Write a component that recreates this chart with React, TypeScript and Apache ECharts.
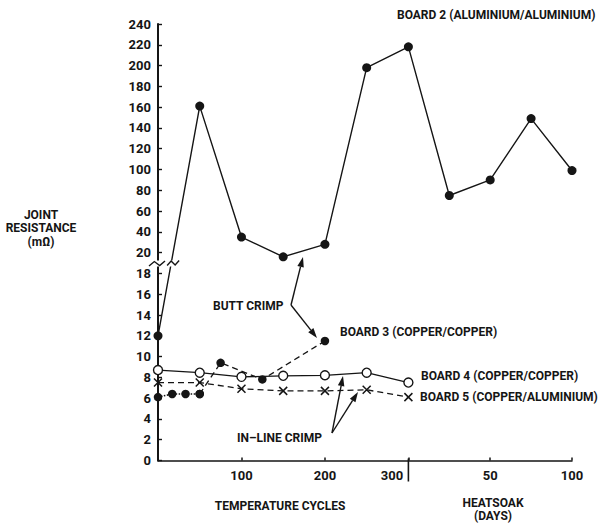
import React, { useEffect, useRef } from "react";
import * as echarts from "echarts";

// ---------- data ----------
// Board 2 (aluminium/aluminium), temperature-cycle part. Scale tells which part of the broken axis the value is read on.
const B2_CYCLES = [0, 50, 100, 150, 200, 250, 300];
const B2_CYCLE_VALUES = [12, 161, 35, 16, 28, 198, 218];
const B2_CYCLE_SCALE = ["low", "high", "high", "high", "high", "high", "high"];
// Board 2, heatsoak part (days)
const B2_DAYS = [25, 50, 75, 100];
const B2_DAY_VALUES = [75, 90, 149, 99];

// Board 3 (copper/copper) butt crimp
const B3_CYCLES = [0, 17, 33, 50, 75, 125, 200];
const B3_VALUES = [6.1, 6.4, 6.4, 6.4, 9.4, 7.8, 11.5];
const B3_DOTTED_UNTIL = 4; // first points joined by a dotted line

// Board 4 (copper/copper) in-line crimp
const B4_CYCLES = [0, 50, 100, 150, 200, 250, 300];
const B4_VALUES = [8.7, 8.45, 8.05, 8.15, 8.2, 8.45, 7.5];

// Board 5 (copper/aluminium) in-line crimp
const B5_CYCLES = [0, 50, 100, 150, 200, 250, 300];
const B5_VALUES = [7.5, 7.5, 6.9, 6.7, 6.7, 6.8, 6.1];

// axis ticks
const CYCLE_TICKS = [100, 200, 300];
const DAY_TICKS = [50, 100];
const Y_LOW_MAX = 18;
const Y_HIGH_MIN = 20;
const Y_HIGH_MAX = 240;

// ---------- broken-axis mapping ----------
const CYCLE_END = 300;
const DAY_SCALE = 1.96; // one heatsoak day spans this many cycle units
const HIGH_COMPRESS = 10; // upper part: 20 units per 2 lower units
const dayToX = (d: number) => CYCLE_END + d * DAY_SCALE;
const xToLabel = (x: number) => (x <= CYCLE_END ? String(Math.round(x)) : String(Math.round((x - CYCLE_END) / DAY_SCALE)));
const toY = (v: number, scale: string) => (scale === "low" ? v : Y_HIGH_MIN + (v - Y_HIGH_MIN) / HIGH_COMPRESS);
const yToLabel = (y: number) => (y <= Y_LOW_MAX ? String(y) : String(Math.round(Y_HIGH_MIN + (y - Y_HIGH_MIN) * HIGH_COMPRESS)));

const X_MAX = dayToX(DAY_TICKS[DAY_TICKS.length - 1]);
const Y_MAX = toY(Y_HIGH_MAX, "high");

const GRID = { left: 158, top: 24, width: 414, height: 436.5 };
const px = (x: number) => GRID.left + (x / X_MAX) * GRID.width;
const py = (y: number) => GRID.top + GRID.height - (y / Y_MAX) * GRID.height;

const FONT = "Roboto, 'Liberation Sans', sans-serif";
const INK = "#151515";

function label(text: string, x: number, y: number, align = "left", extra: any = {}) {
  return {
    type: "text",
    z: 100,
    style: {
      text,
      x,
      y,
      fill: INK,
      fontFamily: FONT,
      fontWeight: "bold",
      fontSize: 12,
      align,
      verticalAlign: "middle",
      ...extra,
    },
  };
}

function arrow(x1: number, y1: number, x2: number, y2: number) {
  const L = 10;
  const W = 3.3;
  const a = Math.atan2(y2 - y1, x2 - x1);
  const bx = x2 - Math.cos(a) * L;
  const by = y2 - Math.sin(a) * L;
  const nx = -Math.sin(a) * W;
  const ny = Math.cos(a) * W;
  return [
    { type: "line", z: 100, shape: { x1, y1, x2: bx, y2: by }, style: { stroke: INK, lineWidth: 1.4 } },
    {
      type: "polygon",
      z: 100,
      shape: { points: [[x2, y2], [bx + nx, by + ny], [bx - nx, by - ny]] },
      style: { fill: INK },
    },
  ];
}

export default function App() {
  const ref = useRef<HTMLDivElement>(null);
  useEffect(() => {
    if (!ref.current) return;
    const chart = echarts.init(ref.current, undefined, { renderer: "svg" });

    const b2 = [
      ...B2_CYCLES.map((c, i) => [c, toY(B2_CYCLE_VALUES[i], B2_CYCLE_SCALE[i])]),
      ...B2_DAYS.map((d, i) => [dayToX(d), toY(B2_DAY_VALUES[i], "high")]),
    ];
    const b3 = B3_CYCLES.map((c, i) => [c, toY(B3_VALUES[i], "low")]);
    const b4 = B4_CYCLES.map((c, i) => [c, toY(B4_VALUES[i], "low")]);
    const b5 = B5_CYCLES.map((c, i) => [c, toY(B5_VALUES[i], "low")]);

    const xTicks = [...CYCLE_TICKS, ...DAY_TICKS.map(dayToX)];
    const tickFont = { fontFamily: FONT, fontWeight: "bold", fontSize: 13, color: INK };

    // break location on the y axis and on board 2's first segment
    const breakY = (py(Y_LOW_MAX) + py(Y_HIGH_MIN)) / 2 + 0.5;
    const p0 = b2[0];
    const p1 = b2[1];
    const tBreak = (py(p0[1]) - breakY) / (py(p0[1]) - py(p1[1]));
    const lineBreakX = px(p0[0]) + tBreak * (px(p1[0]) - px(p0[0]));
    const axX = GRID.left;

    const zig = (cx: number, cy: number, hw: number) => ({
      type: "polyline",
      z: 101,
      shape: {
        points: [
          [cx - hw, cy + 2.5],
          [cx - hw / 3, cy - 2],
          [cx + hw / 3, cy + 2],
          [cx + hw, cy - 2.5],
        ],
      },
      style: { stroke: INK, lineWidth: 1.4, fill: "none" },
    });

    chart.setOption({
      animation: false,
      backgroundColor: "#fff",
      grid: { ...GRID, containLabel: false },
      xAxis: {
        type: "value",
        min: 0,
        max: X_MAX,
        splitLine: { show: false },
        axisLine: { lineStyle: { color: INK, width: 1.5 } },
        axisTick: { customValues: xTicks, inside: true, length: 3, lineStyle: { color: INK, width: 1.5 } },
        axisLabel: {
          customValues: xTicks,
          margin: 8,
          ...tickFont,
          formatter: (v: number) => (v === CYCLE_END ? "{s|" + xToLabel(v) + "}" : xToLabel(v)),
          rich: { s: { ...tickFont, padding: [0, 33, 0, 0] } },
        },
      },
      yAxis: {
        type: "value",
        min: 0,
        max: Y_MAX,
        interval: 2,
        splitLine: { show: false },
        axisLine: { lineStyle: { color: INK, width: 2 } },
        axisTick: { inside: true, length: 4, lineStyle: { color: INK, width: 1.4 } },
        axisLabel: { margin: 7, ...tickFont, formatter: (v: number) => yToLabel(v) },
      },
      series: [
        {
          name: "Board 2",
          type: "line",
          data: b2,
          symbol: "circle",
          symbolSize: 9,
          itemStyle: { color: INK },
          lineStyle: { color: INK, width: 1.4 },
          z: 3,
        },
        {
          name: "Board 3 dotted",
          type: "line",
          data: b3.slice(0, B3_DOTTED_UNTIL),
          symbol: "circle",
          symbolSize: 8.5,
          itemStyle: { color: INK },
          lineStyle: { color: INK, width: 1.6, type: [1.5, 1.5] },
          z: 3,
        },
        {
          name: "Board 3",
          type: "line",
          data: b3.slice(B3_DOTTED_UNTIL - 1),
          symbol: "circle",
          symbolSize: 8.5,
          itemStyle: { color: INK },
          lineStyle: { color: INK, width: 1.3, type: [6, 4] },
          z: 3,
        },
        {
          name: "Board 4",
          type: "line",
          data: b4,
          symbol: "circle",
          symbolSize: 9,
          itemStyle: { color: "#fff", borderColor: INK, borderWidth: 1.4 },
          lineStyle: { color: INK, width: 1.3 },
          z: 4,
        },
        {
          name: "Board 5",
          type: "line",
          data: b5,
          symbol: "path://M0,0L10,10M10,0L0,10",
          symbolSize: 8,
          itemStyle: { color: "none", borderColor: INK, borderWidth: 1.5 },
          lineStyle: { color: INK, width: 1.3, type: [6, 4] },
          z: 4,
        },
      ],
      graphic: [
        // axis break
        { type: "rect", z: 99, shape: { x: axX - 12, y: breakY - 3, width: 45, height: 6 }, style: { fill: "#fff" } },
        zig(axX - 1, breakY, 8),
        zig(lineBreakX + 2, breakY - 0.5, 6),
        // section divider between cycles and heatsoak
        {
          type: "line",
          z: 100,
          shape: { x1: px(CYCLE_END), y1: py(0) - 2, x2: px(CYCLE_END), y2: py(0) + 21 },
          style: { stroke: INK, lineWidth: 1.6 },
        },
        label("BOARD 2 (ALUMINIUM/ALUMINIUM)", 397, 15),
        label("JOINT\nRESISTANCE\n(mΩ)", 41, 228, "center", { lineHeight: 13.5 }),
        label("BUTT CRIMP", 213, 306),
        label("BOARD 3 (COPPER/COPPER)", 340, 332),
        label("BOARD 4 (COPPER/COPPER)", 421, 376),
        label("BOARD 5 (COPPER/ALUMINIUM)", 420, 397),
        label("IN–LINE CRIMP", 237, 438),
        label("TEMPERATURE CYCLES", 280, 506, "center"),
        label("HEATSOAK", 493, 503, "center"),
        label("(DAYS)", 493, 516, "center"),
        ...arrow(291, 305, 303, 257),
        ...arrow(291, 305, 317, 338),
        ...arrow(332, 433, 343, 376),
        ...arrow(332, 433, 358, 392),
      ],
    });
    return () => chart.dispose();
  }, []);
  return <div ref={ref} style={{ position: "fixed", left: 0, top: 0, width: 598, height: 523, background: "#fff" }} />;
}
